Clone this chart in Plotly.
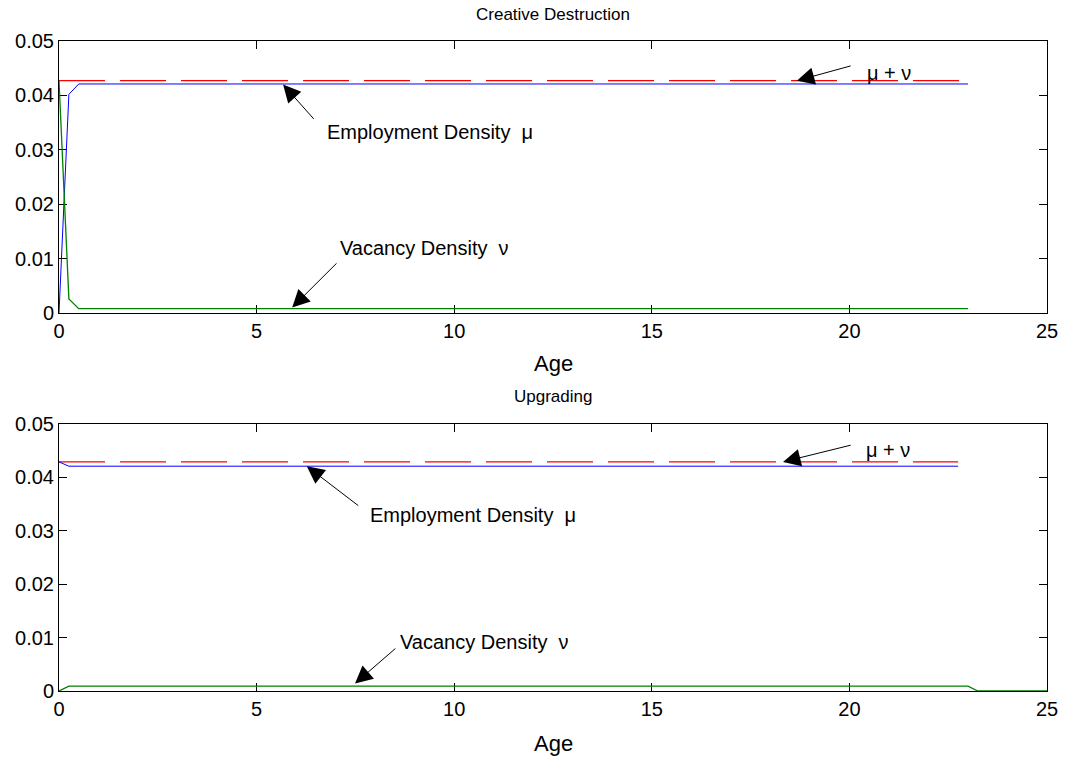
import plotly.graph_objects as go
from plotly.subplots import make_subplots

# ---------------- data ----------------
# Creative Destruction (top panel)
cd_age = [0, 0.25, 0.5, 23]
cd_mu = [0.0, 0.0402, 0.0421, 0.0421]          # Employment density (blue)
cd_nu = [0.0427, 0.0026, 0.0008, 0.0008]       # Vacancy density (green)
cd_total_age = [0, 23]
cd_total = [0.0427, 0.0427]                    # mu + nu (red dashed)

# Upgrading (bottom panel)
up_age_mu = [0, 0.25, 22.75]
up_mu = [0.0429, 0.0421, 0.0421]
up_total_age = [0, 22.75]
up_total = [0.0429, 0.0429]
up_age_nu = [0, 0.25, 23, 23.25, 25]
up_nu = [0.0, 0.0009, 0.0009, 0.0, 0.0]

x_ticks = [0, 5, 10, 15, 20, 25]
y_ticks = [0, 0.01, 0.02, 0.03, 0.04, 0.05]
y_tick_text = ["0", "0.01", "0.02", "0.03", "0.04", "0.05"]

titles = ["Creative Destruction", "Upgrading"]
x_label = "Age"
lbl_mu = "Employment Density  \u03bc"
lbl_nu = "Vacancy Density  \u03bd"
lbl_sum = "\u03bc + \u03bd"

# ---------------- figure ----------------
W, H = 1067, 761
ML, MR, MT, MB = 59, 20, 41, 70
FONT = "Liberation Sans, Arial, Helvetica, sans-serif"

fig = make_subplots(rows=2, cols=1, vertical_spacing=0.0)

BLUE, GREEN, RED = "#0000ff", "#008000", "#ff0000"

def add_panel(row, age_mu, mu, age_nu, nu, age_tot, tot):
    fig.add_trace(go.Scatter(x=age_tot, y=tot, mode="lines",
                             line=dict(color=RED, width=1.2, dash="46px,15px")), row=row, col=1)
    fig.add_trace(go.Scatter(x=age_mu, y=mu, mode="lines",
                             line=dict(color=BLUE, width=1)), row=row, col=1)
    fig.add_trace(go.Scatter(x=age_nu, y=nu, mode="lines",
                             line=dict(color=GREEN, width=1.3)), row=row, col=1)

add_panel(1, cd_age, cd_mu, cd_age, cd_nu, cd_total_age, cd_total)
add_panel(2, up_age_mu, up_mu, up_age_nu, up_nu, up_total_age, up_total)

plot_h = H - MT - MB
PLOT_BOTTOM = H - MB   # pixel row of the plot-area bottom
top_dom = [(PLOT_BOTTOM - 313) / plot_h, 1.0]
bot_dom = [0.0, (PLOT_BOTTOM - 424) / plot_h]

axis_common = dict(showline=True, linecolor="black", linewidth=1, mirror="allticks",
                   ticks="inside", ticklen=8, tickcolor="black", showgrid=False,
                   zeroline=False, tickfont=dict(family=FONT, size=20, color="black"),
                   layer="below traces", automargin=False)

fig.update_xaxes(range=[0, 25], tickvals=x_ticks, **axis_common)
fig.update_yaxes(range=[0, 0.05], tickvals=y_ticks, ticktext=y_tick_text, **axis_common)
fig.update_yaxes(domain=top_dom, row=1, col=1)
fig.update_yaxes(domain=bot_dom, row=2, col=1)

def py_paper(py):
    return (PLOT_BOTTOM - py) / plot_h

anns = []
# titles and axis labels
for t, py in zip(titles, [14, 396]):
    anns.append(dict(text=t, x=0.5, y=py_paper(py), xref="paper", yref="paper",
                     showarrow=False, xanchor="center", yanchor="middle",
                     font=dict(family=FONT, size=17, color="black")))
for py in [363, 743]:
    anns.append(dict(text=x_label, x=0.5, y=py_paper(py), xref="paper", yref="paper",
                     showarrow=False, xanchor="center", yanchor="middle",
                     font=dict(family=FONT, size=22, color="black")))

def arrow(xr, yr, tip, tail):
    return dict(text="", x=tip[0], y=tip[1], ax=tail[0], ay=tail[1], xref=xr, yref=yr,
                axref=xr, ayref=yr, showarrow=True, arrowhead=2, arrowsize=3.5,
                arrowwidth=1, arrowcolor="black", standoff=0, startstandoff=0)

def label(xr, yr, pos, text, anchor="left"):
    return dict(text=text, x=pos[0], y=pos[1], xref=xr, yref=yr, showarrow=False,
                xanchor=anchor, yanchor="middle",
                font=dict(family=FONT, size=20, color="black"))

# top panel annotations
anns += [
    arrow("x", "y", (18.67, 0.0427), (20.07, 0.0455)),
    label("x", "y", (21.0, 0.0442), lbl_sum, "center"),
    arrow("x", "y", (5.67, 0.0420), (6.48, 0.0354)),
    label("x", "y", (6.73, 0.0332), lbl_mu),
    arrow("x", "y", (5.9, 0.0010), (7.06, 0.0094)),
    label("x", "y", (7.06, 0.0119), lbl_nu),
]
# bottom panel annotations
anns += [
    arrow("x2", "y2", (18.32, 0.0429), (20.07, 0.0461)),
    label("x2", "y2", (20.98, 0.0451), lbl_sum, "center"),
    arrow("x2", "y2", (6.27, 0.0421), (7.61, 0.0345)),
    label("x2", "y2", (7.82, 0.0330), lbl_mu),
    arrow("x2", "y2", (7.49, 0.0014), (8.55, 0.0082)),
    label("x2", "y2", (8.57, 0.0092), lbl_nu),
]

fig.update_layout(width=W, height=H, margin=dict(l=ML, r=MR, t=MT, b=MB),
                  paper_bgcolor="white", plot_bgcolor="white", showlegend=False,
                  annotations=anns, font=dict(family=FONT, color="black"))

fig.write_html("out.html", config={"displayModeBar": False},
               post_script="document.body.style.margin='0px';")
